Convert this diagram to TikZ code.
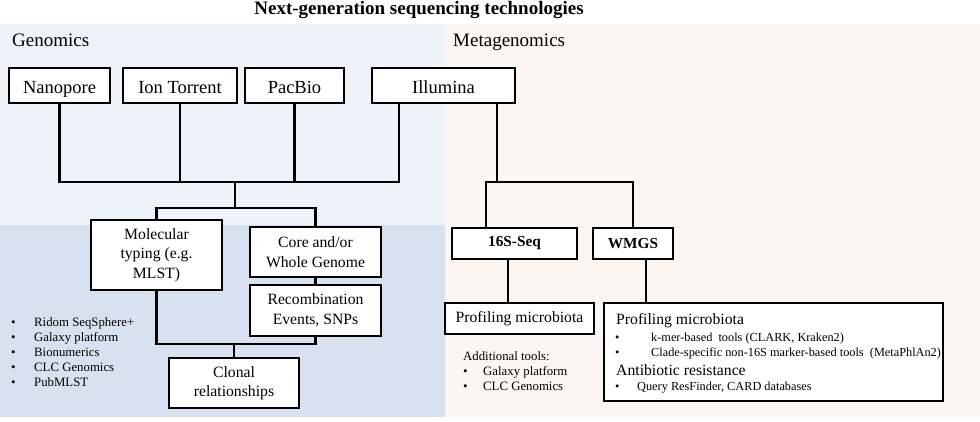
\documentclass[tikz,border=0pt]{standalone}
\usepackage{fontspec}
\setmainfont{Liberation Serif}
\usetikzlibrary{positioning,shadows}

\definecolor{genup}{HTML}{EEF3F9}
\definecolor{genlow}{HTML}{D7E1EF}
\definecolor{metabg}{HTML}{FBF6F2}
\newcommand{\headfont}{\fontsize{18.5}{20}\selectfont}
\newcommand{\boxfont}{\fontsize{15.7}{19.5}\selectfont}
\newcommand{\toolfont}{\fontsize{12.8}{15}\selectfont}

\begin{document}
\begin{tikzpicture}[
    x=1pt, y=-1pt,
    font=\boxfont,
    box/.style={draw, line width=2.2pt, fill=white, inner sep=2pt, outer sep=0pt,
      align=center, drop shadow={shadow xshift=1.3pt, shadow yshift=-1.3pt, opacity=0.3}},
    plat/.style={box, minimum height=35pt, font=\headfont, text height=15pt, text depth=0pt},
    meth/.style={box, minimum height=31pt, font=\fontsize{15.3}{17}\selectfont\bfseries},
    tool/.style={anchor=base west, inner sep=0pt, font=\toolfont},
    sect/.style={anchor=base west, inner sep=0pt, font=\fontsize{19}{21}\selectfont},
    con/.style={line width=2.2pt},
  ]
  \useasboundingbox (0,0) rectangle (980,421);

  % background panels
  \fill[genup] (0,24) rectangle (445,225);
  \fill[genlow] (0,225) rectangle (445,417);
  \fill[metabg] (445,24) rectangle (980,417);

  \node[anchor=base, inner sep=0pt, font=\fontsize{19}{21}\selectfont\bfseries]
    (title) at (419,14) {Next-generation sequencing technologies};
  \node[sect] (gen) at (12,46) {Genomics};
  \node[sect] (meta) at (453,46) {Metagenomics};

  % sequencing platforms
  \node[plat, minimum width=101pt] (nano) at (59.5,85.5) {Nanopore};
  \node[plat, minimum width=114pt, right=13pt of nano] (ion) {Ion Torrent};
  \node[plat, minimum width=99pt, right=8pt of ion] (pac) {PacBio};
  \node[plat, minimum width=143pt, right=28pt of pac] (illu) {Illumina};
  \coordinate (illuL) at ([xshift=-44.5pt]illu.south);
  \coordinate (illuR) at ([xshift=53.5pt]illu.south);

  % genomics
  \node[box, minimum width=131pt, minimum height=70pt] (mol) at (156.5,255)
    {Molecular\\typing (e.g.\\MLST)};
  \node[box, minimum width=131pt, minimum height=50pt] (core) at (315.5,252)
    {Core and/or\\Whole Genome};
  \node[box, minimum width=131pt, minimum height=51pt, below=8pt of core] (rec)
    {Recombination\\Events, SNPs};
  \node[box, minimum width=130pt, minimum height=50pt] (clon) at (234,383)
    {Clonal\\relationships};

  \node[tool] (b1) at (11,326) {•};
  \node[tool] (t1) at (34,326) {Ridom SeqSphere+};
  \node[tool] (b2) at (11,341) {•};
  \node[tool] (t2) at (34,341) {Galaxy platform};
  \node[tool] (b3) at (11,356) {•};
  \node[tool] (t3) at (34,356) {Bionumerics};
  \node[tool] (b4) at (11,371) {•};
  \node[tool] (t4) at (34,371) {CLC Genomics};
  \node[tool] (b5) at (11,386) {•};
  \node[tool] (t5) at (34,386) {PubMLST};

  % metagenomics
  \node[meth, minimum width=125pt] (s16) at (514.5,243.5) {16S-Seq};
  \node[meth, minimum width=80pt] (wmgs) at (633,243.5) {WMGS};
  \node[box, minimum width=149pt, minimum height=31pt] (prof) at (519.5,318.5)
    {Profiling microbiota};
  \node[box, minimum width=339pt, minimum height=98pt] (wbox) at (773.5,352) {};
  \coordinate (s16top) at ([xshift=-28.5pt]s16.north);

  \node[tool] (add) at (463,360) {Additional tools:};
  \node[tool] (ab1) at (463,375) {•};
  \node[tool] (at1) at (483,375) {Galaxy platform};
  \node[tool] (ab2) at (463,390) {•};
  \node[tool] (at2) at (483,390) {CLC Genomics};

  \node[tool, font=\boxfont] (wprof) at (616,324) {Profiling microbiota};
  \node[tool, font=\fontsize{12.3}{15}\selectfont] (wb1) at (615,341) {•};
  \node[tool, font=\fontsize{12.3}{15}\selectfont] (wt1) at (651,341)
    {k-mer-based\ \ tools (CLARK, Kraken2)};
  \node[tool, font=\fontsize{12.3}{15}\selectfont] (wb2) at (615,356) {•};
  \node[tool, font=\fontsize{12.3}{15}\selectfont] (wt2) at (651,356)
    {Clade-specific non-16S marker-based tools\ \ (MetaPhlAn2)};
  \node[tool, font=\boxfont] (wres) at (616,375) {Antibiotic resistance};
  \node[tool, font=\fontsize{12.3}{15}\selectfont] (wb3) at (615,390) {•};
  \node[tool, font=\fontsize{12.3}{15}\selectfont] (wt3) at (637,390)
    {Query ResFinder, CARD databases};

  % connectors
  \coordinate (jg) at (235,182);
  \coordinate (js) at (235,208);
  \coordinate (jc) at (234,344);
  \draw[con] (nano.south) |- (illuL |- jg) -- (illuL);
  \draw[con] (ion.south) -- (ion.south |- jg);
  \draw[con] (pac.south) -- (pac.south |- jg);
  \draw[con] (jg) -- (js);
  \draw[con] (mol.north) |- (js) -| (core.north);
  \draw[con] (core) -- (rec);
  \draw[con] (mol.south) |- (jc) -| (rec.south);
  \draw[con] (jc) -- (clon);

  \draw[con] (illuR) -- (illuR |- jg);
  \draw[con] (s16top) |- (wmgs.north |- jg) -- (wmgs.north);
  \draw[con] ([xshift=-6.5pt]s16.south) -- ([xshift=-6.5pt]s16.south |- prof.north);
  \draw[con] ([xshift=13pt]wmgs.south) -- ([xshift=13pt]wmgs.south |- wbox.north);
\end{tikzpicture}
\end{document}
